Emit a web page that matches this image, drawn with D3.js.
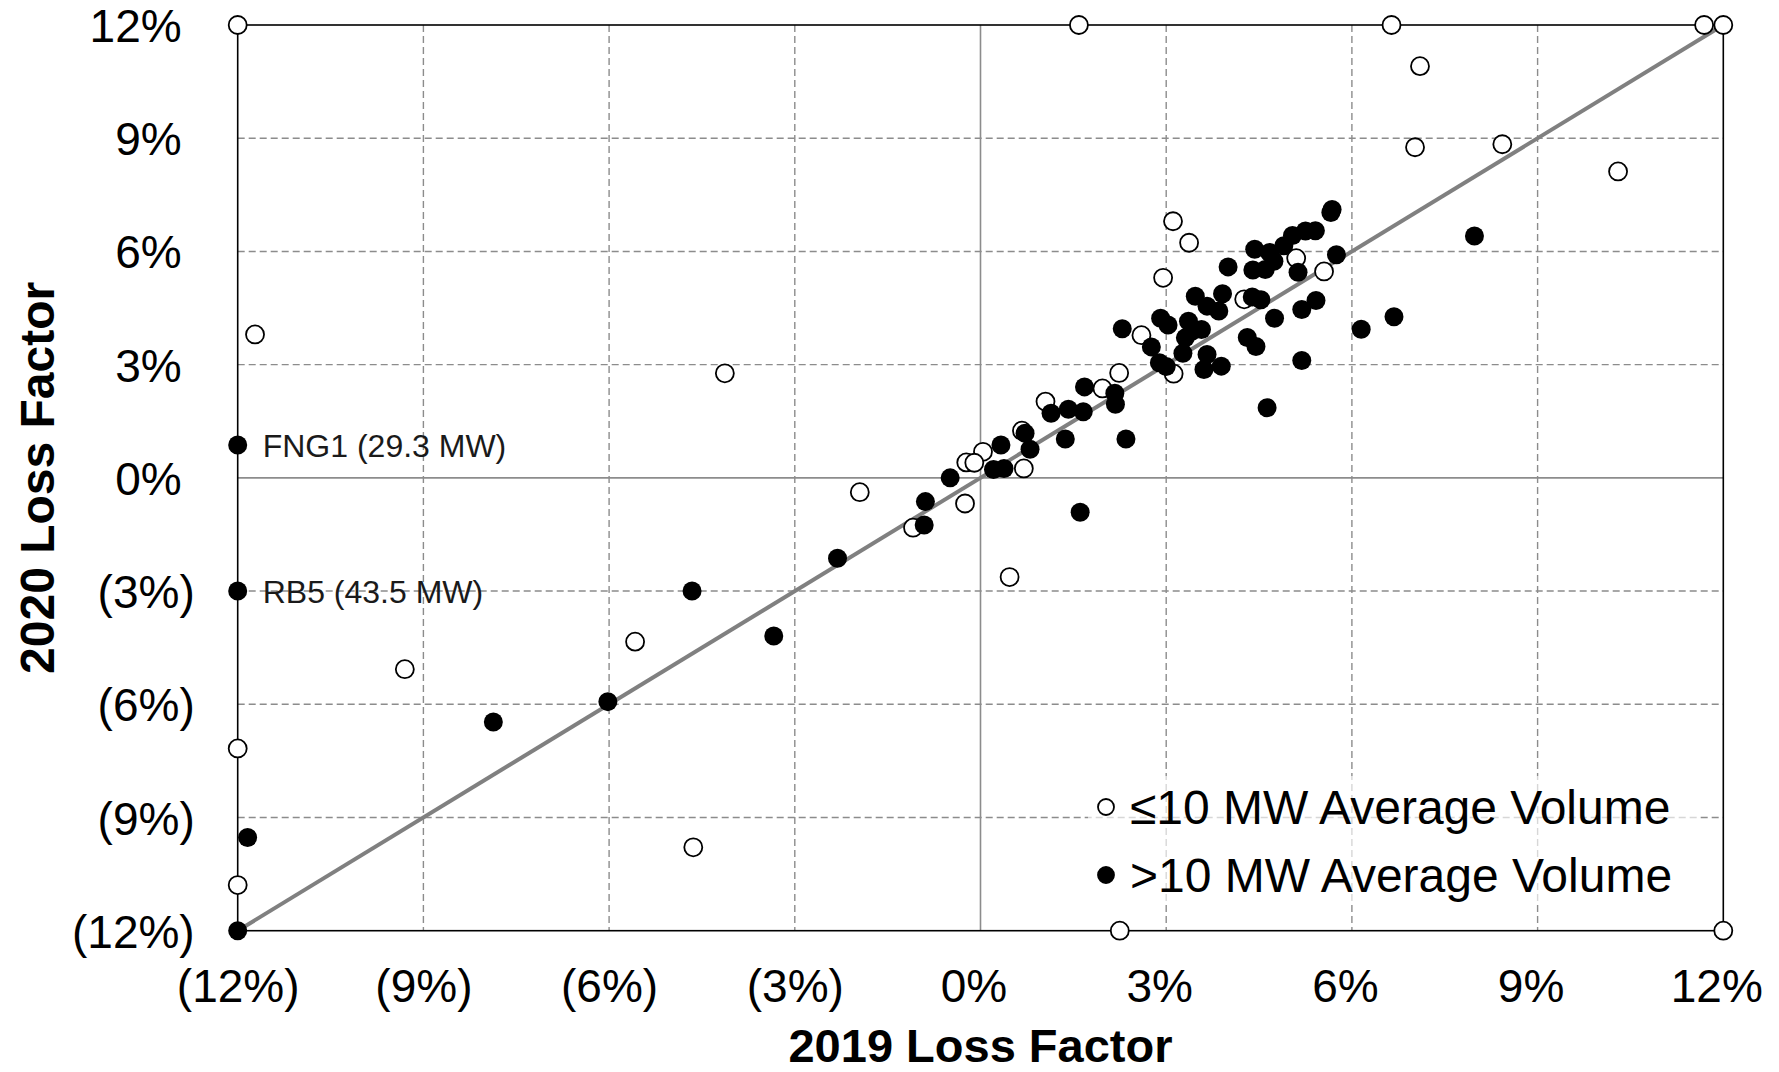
<!DOCTYPE html>
<html>
<head>
<meta charset="utf-8">
<script src="https://cdn.jsdelivr.net/npm/d3@7"></script>
<style>
    body { margin: 0; background: #fff; }
    svg { display: block; font-family: "Liberation Sans", Arial, sans-serif; }
</style>
</head>
<body>
<svg id="scatter"></svg>
<script>
// loss factor scatter, 2019 vs 2020 (values in %)
var smallUnits = [
    [-12, 12], [1.59, 12], [6.64, 12], [11.69, 12], [12, 12],
    [7.10, 10.91], [7.02, 8.76], [8.43, 8.84], [10.30, 8.12],
    [3.11, 6.80], [3.37, 6.23], [2.95, 5.30], [5.10, 5.82], [5.55, 5.47],
    [4.26, 4.73], [2.60, 3.78], [3.12, 2.76], [2.24, 2.78], [1.97, 2.37],
    [1.05, 2.02], [0.67, 1.25], [0.04, 0.69], [-0.23, 0.41], [-0.10, 0.40],
    [0.70, 0.25], [-0.25, -0.68], [-1.09, -1.32], [-1.95, -0.38], [0.47, -2.63],
    [-11.72, 3.80], [-4.13, 2.77], [-9.30, -5.07], [-5.58, -4.34],
    [-12, -7.17], [-12, -10.79], [-4.64, -9.79], [2.25, -12], [12, -12]
]
var largeUnits = [
    [-12, 0.87], [-12, -3.0], [-12, -12], [-11.84, -9.53], [-7.87, -6.47],
    [-6.02, -5.93], [-4.66, -3.0], [-3.34, -4.19], [-2.31, -2.13],
    [-0.89, -0.63], [-0.91, -1.25], [-0.49, 0.0], [0.21, 0.22], [0.38, 0.25],
    [0.33, 0.87], [0.72, 1.18], [0.80, 0.76], [1.61, -0.91], [1.14, 1.71],
    [1.42, 1.82], [1.66, 1.75], [1.37, 1.03], [1.68, 2.41], [2.17, 2.24],
    [2.18, 1.95], [2.35, 1.03], [2.29, 3.95], [2.76, 3.47], [2.91, 4.23],
    [3.03, 4.05], [2.89, 3.05], [3.00, 2.95], [3.27, 3.30], [3.31, 3.71],
    [3.36, 4.15], [3.57, 3.93], [3.42, 3.89], [3.66, 3.27], [3.61, 2.87],
    [3.89, 2.96], [3.47, 4.81], [3.66, 4.55], [3.85, 4.42], [3.91, 4.88],
    [4.00, 5.59], [4.39, 4.79], [4.53, 4.72], [4.31, 3.72], [4.45, 3.48],
    [4.63, 1.86], [4.75, 4.23], [5.19, 4.46], [5.42, 4.70], [5.19, 3.11],
    [4.43, 6.06], [4.40, 5.51], [4.60, 5.52], [4.67, 5.97], [4.74, 5.74],
    [4.90, 6.15], [5.04, 6.42], [5.25, 6.54], [5.41, 6.55], [5.66, 7.03],
    [5.68, 7.11], [5.75, 5.91], [5.13, 5.45], [6.15, 3.94], [6.68, 4.27],
    [7.98, 6.41]
]
var tickValues = [-12, -9, -6, -3, 0, 3, 6, 9, 12]
var gridValues = [-9, -6, -3, 3, 6, 9]
var callouts = [
    { label: "FNG1 (29.3 MW)", x: -12, y: 0.87 },
    { label: "RB5 (43.5 MW)", x: -12, y: -3.0 }
]
var legendLabels = ["\u226410 MW Average Volume", ">10 MW Average Volume"]

var dimensions = {
    width: 1779,
    height: 1072,
    margin: {
        top: 25,
        bottom: 141.3,
        right: 55.7,
        left: 237.7
    }
}

var svg = d3.select('#scatter')
    .attr("width", dimensions.width)
    .attr("height", dimensions.height)

var xScale = d3.scaleLinear()
    .domain([-12, 12])
    .range([dimensions.margin.left, dimensions.width - dimensions.margin.right])

var yScale = d3.scaleLinear()
    .domain([-12, 12])
    .range([dimensions.height - dimensions.margin.bottom, dimensions.margin.top])

var pct = v => v < 0 ? "(" + Math.abs(v) + "%)" : v + "%"

// dashed grid
svg.append("g").selectAll("line")
    .data(gridValues)
    .enter()
    .append("line")
    .attr("x1", d => xScale(d))
    .attr("x2", d => xScale(d))
    .attr("y1", yScale(12))
    .attr("y2", yScale(-12))
    .attr("stroke", "#8c8c8c")
    .attr("stroke-width", 1.4)
    .attr("stroke-dasharray", "7,4")
svg.append("g").selectAll("line")
    .data(gridValues)
    .enter()
    .append("line")
    .attr("y1", d => yScale(d))
    .attr("y2", d => yScale(d))
    .attr("x1", xScale(-12))
    .attr("x2", xScale(12))
    .attr("stroke", "#8c8c8c")
    .attr("stroke-width", 1.4)
    .attr("stroke-dasharray", "7,4")

// zero lines
svg.append("line")
    .attr("x1", xScale(0)).attr("x2", xScale(0))
    .attr("y1", yScale(12)).attr("y2", yScale(-12))
    .attr("stroke", "#8c8c8c").attr("stroke-width", 1.6)
svg.append("line")
    .attr("x1", xScale(-12)).attr("x2", xScale(12))
    .attr("y1", yScale(0)).attr("y2", yScale(0))
    .attr("stroke", "#8c8c8c").attr("stroke-width", 1.6)

// legend box lets the grid show through faintly
svg.append("rect")
    .attr("x", 1088).attr("y", 776)
    .attr("width", 610).attr("height", 128)
    .attr("fill", "#fff").attr("opacity", 0.65)

// plot frame
svg.append("rect")
    .attr("x", xScale(-12))
    .attr("y", yScale(12))
    .attr("width", xScale(12) - xScale(-12))
    .attr("height", yScale(-12) - yScale(12))
    .attr("fill", "none")
    .attr("stroke", "#000")
    .attr("stroke-width", 1.6)

// 1:1 line
svg.append("line")
    .attr("x1", xScale(-12)).attr("y1", yScale(-12))
    .attr("x2", xScale(12)).attr("y2", yScale(12))
    .attr("stroke", "#808080")
    .attr("stroke-width", 4)

// axes (labels only)
var xAxis = svg.append("g")
    .attr("transform", `translate(0,${yScale(-12)})`)
    .call(d3.axisBottom(xScale).tickValues(tickValues).tickFormat(pct).tickSize(0))
xAxis.select(".domain").remove()
xAxis.selectAll("text")
    .attr("y", 71)
    .attr("dy", 0)
    .attr("dx", d => d >= 0 ? -7 : 0)
    .attr("font-size", 46)
    .attr("font-family", "Liberation Sans, Arial, sans-serif")
    .attr("fill", "#000")

var yAxis = svg.append("g")
    .attr("transform", `translate(${xScale(-12)},0)`)
    .call(d3.axisLeft(yScale).tickValues(tickValues).tickFormat(pct).tickSize(0))
yAxis.select(".domain").remove()
yAxis.selectAll("text")
    .attr("x", d => d >= 0 ? -56 : -43)
    .attr("dy", "0.36em")
    .attr("font-size", 46)
    .attr("font-family", "Liberation Sans, Arial, sans-serif")
    .attr("fill", "#000")

// points
svg.append("g").selectAll("circle")
    .data(smallUnits)
    .enter()
    .append("circle")
    .attr("cx", d => xScale(d[0]))
    .attr("cy", d => yScale(d[1]))
    .attr("r", 9)
    .attr("fill", "#fff")
    .attr("stroke", "#000")
    .attr("stroke-width", 1.8)

svg.append("g").selectAll("circle")
    .data(largeUnits)
    .enter()
    .append("circle")
    .attr("cx", d => xScale(d[0]))
    .attr("cy", d => yScale(d[1]))
    .attr("r", 9.5)
    .attr("fill", "#000")

// callouts
svg.append("g").selectAll("text")
    .data(callouts)
    .enter()
    .append("text")
    .attr("x", d => xScale(d.x) + 25)
    .attr("y", d => yScale(d.y))
    .attr("dy", "0.36em")
    .attr("font-size", 32)
    .attr("fill", "#1a1a1a")
    .text(d => d.label)

// legend
var legend = svg.append("g").selectAll("g")
    .data(legendLabels)
    .enter()
    .append("g")
    .attr("transform", (d, i) => `translate(1106,${807 + i * 68})`)
legend.append("circle")
    .attr("r", 8)
    .attr("fill", (d, i) => i == 0 ? "#fff" : "#000")
    .attr("stroke", "#000")
    .attr("stroke-width", 1.8)
legend.append("text")
    .attr("x", 24)
    .attr("dy", "0.36em")
    .attr("font-size", 48)
    .attr("fill", "#000")
    .text(d => d)

// axis titles
svg.append("text")
    .attr("x", xScale(0))
    .attr("y", 1062)
    .attr("text-anchor", "middle")
    .attr("font-size", 47)
    .attr("font-weight", "bold")
    .text("2019 Loss Factor")
svg.append("text")
    .attr("transform", `translate(54,${yScale(0)}) rotate(-90)`)
    .attr("text-anchor", "middle")
    .attr("font-size", 48)
    .attr("font-weight", "bold")
    .text("2020 Loss Factor")
</script>
</body>
</html>
